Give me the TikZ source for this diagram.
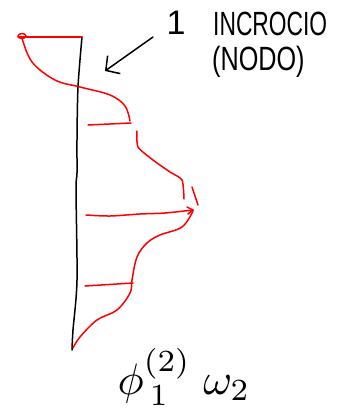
\documentclass[tikz,border=0pt]{standalone}
\usepackage{fontspec}
\setsansfont{Liberation Sans}
\usetikzlibrary{arrows.meta}
\begin{document}
\begin{tikzpicture}[x=1pt,y=-1pt,
  redline/.style={draw=red,line width=1.5pt,line cap=round,line join=round},
  blackline/.style={draw=black,line width=1.5pt,line cap=round,line join=round},
  hand/.style={font=\sffamily\fontsize{24}{26}\selectfont,inner sep=0pt}]
\useasboundingbox (0,0) rectangle (350,415);
% vertical axis
\draw[blackline] plot[smooth] coordinates {(82,37) (78,87) (77,140) (77,173) (76,190) (77,280) (73,330) (72,350)};
% top horizontal and small circle
\draw[redline] (18,37) -- (82,37);
\draw[redline] (22,36) ellipse (4 and 2.5);
% mode shape curve
\draw[redline] plot[smooth,tension=0.6] coordinates {(22,38) (32,62) (55,80) (80,87) (110,95) (125,106) (130,121)};
\draw[redline] (131,123) -- (88,125);
\draw[redline] plot[smooth,tension=0.4] coordinates {(137,131) (138,147) (153,160) (170,172) (182,180) (184,199)};
\draw[redline] (192,187) -- (198,205);
\draw[redline] plot[smooth,tension=0.5] coordinates {(86,215) (110,216) (140,214) (165,213) (193,210)};
\draw[redline] (187,207) -- (193,210) -- (188,214);
\draw[redline] plot[smooth,tension=0.6] coordinates {(193,211) (182,227) (160,235) (147,243) (137,257) (132,280) (130,293) (117,310) (97,320) (80,337) (73,348)};
\draw[redline] (85,286) -- (133,283);
% labels
\node[hand,font=\sffamily\fontsize{34}{36}\selectfont] (one) at (176,23) {1};
\node[hand,anchor=west] (incr) at (213,24) {\scalebox{0.95}[1.4]{INCROCIO}};
\node[hand,anchor=west] (nodo) at (212,62) {\scalebox{1.05}[1.4]{(NODO)}};
\coordinate (tip) at (105,71);
\draw[blackline,-{Straight Barb[length=10pt,width=22pt,line width=1.5pt]}] (153,37) -- (tip);
\node[inner sep=0pt] (phi) at (184,377) {\scalebox{4.4}{$\phi^{(2)}_{\,1}\;\omega_2$}};
\end{tikzpicture}
\end{document}
